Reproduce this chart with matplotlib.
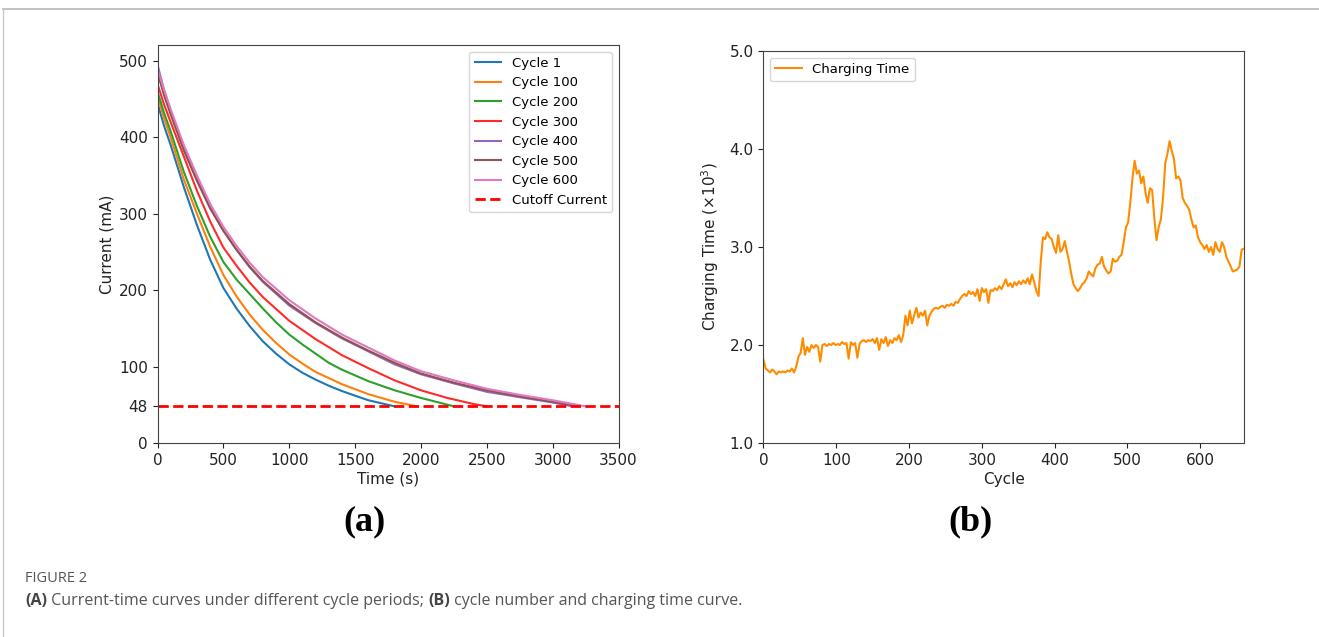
import matplotlib
matplotlib.use("Agg")
import matplotlib.pyplot as plt
from matplotlib.lines import Line2D

# ---------------- data: panel (a) ----------------
cycle_labels = ["Cycle 1", "Cycle 100", "Cycle 200", "Cycle 300",
                "Cycle 400", "Cycle 500", "Cycle 600"]

t_c1 = [0, 50, 100, 200, 300, 400, 500, 600, 700, 800, 900, 1000, 1100, 1200, 1300, 1400, 1500, 1600, 1700, 1800]
i_c1 = [445, 415, 390, 335, 285, 240, 203, 176, 153, 133, 117, 103, 92, 83, 75, 68, 62, 56, 52, 48]

t_c100 = [0, 50, 100, 200, 300, 400, 500, 600, 700, 800, 900, 1000, 1100, 1200, 1400, 1600, 1800, 1970]
i_c100 = [455, 425, 400, 345, 300, 257, 220, 192, 168, 148, 131, 116, 104, 93, 77, 64, 54, 48]

t_c200 = [0, 50, 100, 200, 300, 400, 500, 600, 700, 800, 900, 1000, 1100, 1200, 1300, 1400, 1600, 1800, 2000, 2250]
i_c200 = [460, 432, 408, 355, 310, 270, 237, 214, 195, 176, 158, 142, 129, 117, 105, 96, 81, 69, 59, 48]

t_c300 = [0, 50, 100, 200, 300, 400, 500, 600, 700, 800, 1000, 1200, 1400, 1600, 1800, 2000, 2200, 2400, 2500]
i_c300 = [470, 443, 420, 375, 330, 290, 256, 232, 210, 191, 160, 136, 115, 98, 82, 69, 59, 51, 48]

t_c400 = [0, 50, 100, 200, 300, 400, 500, 600, 700, 800, 1000, 1200, 1400, 1600, 1800, 2000, 2250, 2500, 2750, 3000, 3150]
i_c400 = [495, 462, 435, 385, 345, 308, 278, 253, 230, 211, 180, 157, 137, 120, 103, 90, 78, 67, 60, 53, 48]

t_c500 = [0, 50, 100, 200, 300, 400, 500, 600, 700, 800, 1000, 1200, 1400, 1600, 1800, 2000, 2250, 2500, 2750, 3000, 3200]
i_c500 = [485, 455, 430, 383, 343, 307, 278, 253, 231, 212, 182, 158, 138, 121, 105, 91, 79, 69, 61, 54, 48]

t_c600 = [0, 50, 100, 200, 300, 400, 500, 600, 700, 800, 1000, 1200, 1400, 1600, 1800, 2000, 2250, 2500, 2750, 3000, 3250]
i_c600 = [490, 462, 437, 390, 350, 313, 283, 258, 236, 217, 187, 163, 142, 125, 108, 94, 82, 71, 63, 56, 48]

cutoff_current = 48
yticks_a = [0, 48, 100, 200, 300, 400, 500]

# ---------------- data: panel (b) ----------------
cycles_b = [0, 3, 6, 9, 12, 15, 18, 21, 24, 27, 30, 33, 36, 39, 42, 45,
            48, 51, 54, 57, 60, 63, 66, 69, 72, 75, 78, 81, 84, 87, 90, 93, 96, 99,
            102, 105, 108, 111, 114, 117, 120, 123, 126, 129, 132, 135, 138, 141, 144, 147,
            150, 153, 156, 159, 162, 165, 168, 171, 174, 177, 180, 183, 186, 189, 192, 195,
            198, 201, 204, 207, 210, 213, 216, 219, 222, 225, 228, 231, 234, 237, 240, 243,
            246, 249, 252, 255, 258, 261, 264, 267, 270, 273, 276, 279, 282, 285, 288, 291,
            294, 297, 300, 303, 306, 309, 312, 315, 318, 321, 324, 327, 330, 333, 336, 339,
            342, 345, 348, 351, 354, 357, 360, 363, 366, 369, 372, 375, 378, 381, 384, 387,
            390, 393, 396, 399, 402, 405, 408, 411, 414, 417, 420, 423, 426, 429, 432, 435,
            438, 441, 444, 447, 450, 453, 456, 459, 462, 465, 468, 471, 474, 477, 480, 483,
            486, 489, 492, 495, 498, 501, 504, 507, 510, 513, 516, 519, 522, 525, 528, 531,
            534, 537, 540, 543, 546, 549, 552, 555, 558, 561, 564, 567, 570, 573, 576, 579,
            582, 585, 588, 591, 594, 597, 600, 603, 606, 609, 612, 615, 618, 621, 624, 627,
            630, 633, 636, 639, 642, 645, 648, 651, 654, 657, 659]
charging_time = [1.85, 1.76, 1.74, 1.72, 1.75, 1.73, 1.70, 1.73, 1.72, 1.73, 1.72, 1.74, 1.73, 1.76, 1.72, 1.78,
                 1.88, 1.92, 2.07, 1.90, 1.98, 1.93, 2.00, 1.97, 2.00, 1.98, 1.83, 2.00, 2.01, 1.99, 2.01, 2.00, 2.02, 2.00,
                 2.01, 2.00, 2.03, 2.01, 2.02, 1.86, 2.03, 2.00, 2.02, 1.87, 2.01, 2.04, 2.05, 2.03, 2.05, 2.04,
                 2.06, 2.02, 2.07, 1.95, 2.06, 2.02, 2.08, 1.99, 2.05, 2.02, 2.07, 2.05, 2.10, 2.03, 2.10, 2.30,
                 2.20, 2.35, 2.22, 2.30, 2.38, 2.28, 2.33, 2.30, 2.35, 2.20, 2.30, 2.34, 2.37, 2.38, 2.37, 2.39,
                 2.40, 2.38, 2.41, 2.40, 2.42, 2.40, 2.44, 2.43, 2.47, 2.50, 2.52, 2.50, 2.55, 2.52, 2.54, 2.50,
                 2.57, 2.45, 2.58, 2.54, 2.57, 2.43, 2.56, 2.55, 2.58, 2.56, 2.60, 2.57, 2.62, 2.67, 2.60, 2.63,
                 2.59, 2.64, 2.61, 2.65, 2.62, 2.66, 2.63, 2.68, 2.62, 2.72, 2.64, 2.55, 2.50, 2.85, 3.10, 3.08,
                 3.15, 3.10, 3.08, 3.00, 2.94, 3.12, 2.95, 2.98, 3.06, 2.95, 2.85, 2.72, 2.62, 2.58, 2.55, 2.58,
                 2.62, 2.64, 2.68, 2.75, 2.72, 2.70, 2.78, 2.82, 2.83, 2.90, 2.80, 2.76, 2.73, 2.75, 2.88, 2.85,
                 2.86, 2.90, 2.92, 3.05, 3.20, 3.25, 3.45, 3.70, 3.88, 3.75, 3.78, 3.65, 3.72, 3.55, 3.45, 3.60,
                 3.58, 3.30, 3.07, 3.20, 3.28, 3.50, 3.85, 3.95, 4.08, 3.98, 3.90, 3.70, 3.72, 3.68, 3.50, 3.45,
                 3.42, 3.38, 3.28, 3.20, 3.22, 3.10, 3.05, 3.02, 2.98, 3.02, 2.95, 3.00, 2.92, 3.05, 2.98, 2.95,
                 3.05, 3.00, 2.90, 2.85, 2.80, 2.75, 2.76, 2.77, 2.80, 2.97, 2.98]
yticks_b = [1.0, 2.0, 3.0, 4.0, 5.0]
xticks_b = [0, 100, 200, 300, 400, 500, 600]

# ---------------- figure ----------------
W, H = 1319, 637
fig = plt.figure(figsize=(W / 100, H / 100), dpi=100)
fig.patch.set_facecolor("white")

# page frame lines (top and left)
fig.add_artist(Line2D([3 / W, 1.0], [1 - 9 / H, 1 - 9 / H], color="#b5b5b5", lw=1.2))
fig.add_artist(Line2D([3 / W, 3 / W], [0.0, 1 - 9 / H], color="#c8c8c8", lw=1.0))

tick_fs = 11
lab_fs = 11

# panel (a)
ax1 = fig.add_axes([157.5 / W, 1 - 443 / H, 461 / W, (443 - 45) / H])
colors_a = ["#1f77b4", "#ff7f0e", "#2ca02c", "#ff2a2a", "#9467bd", "#8c564b", "#e377c2"]
series_a = [(t_c1, i_c1), (t_c100, i_c100), (t_c200, i_c200), (t_c300, i_c300),
            (t_c400, i_c400), (t_c500, i_c500), (t_c600, i_c600)]
for (t, i), c, lab in zip(series_a, colors_a, cycle_labels):
    ax1.plot(t, i, color=c, lw=1.5, label=lab)
ax1.axhline(cutoff_current, color="red", ls="--", lw=2, label="Cutoff Current")
ax1.set_xlim(0, 3500)
ax1.set_ylim(0, 521)
ax1.set_yticks(yticks_a)
ax1.set_xticks([0, 500, 1000, 1500, 2000, 2500, 3000, 3500])
ax1.tick_params(labelsize=tick_fs, colors="#222222")
ax1.set_xlabel("Time (s)", fontsize=lab_fs, color="#222222", labelpad=3)
ax1.set_ylabel("Current (mA)", fontsize=lab_fs, color="#222222", labelpad=3)
ax1.legend(loc="upper right", fontsize=9.5, handlelength=2.0, labelspacing=0.5)
for s in ax1.spines.values():
    s.set_color("#444444")

# panel (b)
ax2 = fig.add_axes([763.5 / W, 1 - 443 / H, 480.3 / W, (443 - 51) / H])
ax2.plot(cycles_b, charging_time, color="#ff8c00", lw=1.5, label="Charging Time")
ax2.set_xlim(0, 660)
ax2.set_ylim(1.0, 5.0)
ax2.set_yticks(yticks_b)
ax2.set_yticklabels([f"{v:.1f}" for v in yticks_b])
ax2.set_xticks(xticks_b)
ax2.tick_params(labelsize=tick_fs, colors="#222222")
ax2.set_xlabel("Cycle", fontsize=lab_fs, color="#222222", labelpad=3)
ax2.set_ylabel("Charging Time (×10$^3$)", fontsize=lab_fs, color="#222222", labelpad=6)
ax2.legend(loc="upper left", fontsize=9.5, handlelength=2.0)
for s in ax2.spines.values():
    s.set_color("#444444")

# panel labels
fig.text(365 / W, 1 - 522 / H, "(a)", fontsize=26, fontweight="bold",
         family="Liberation Serif", ha="center", va="center")
fig.text(970 / W, 1 - 522 / H, "(b)", fontsize=26, fontweight="bold",
         family="Liberation Serif", ha="center", va="center")

# caption
fig.text(25 / W, 1 - 578 / H, "FIGURE 2", fontsize=10.5, color="#555555",
         family="Open Sans", ha="left", va="center")
cap_y = 1 - 601 / H
cap_fs = 11.5
t1 = fig.text(25 / W, cap_y, "(A)", fontsize=cap_fs, color="#444444", fontweight="bold",
              family="Open Sans", ha="left", va="center")
fig.canvas.draw()
r = fig.canvas.get_renderer()
bb = t1.get_window_extent(r)
t2 = fig.text(bb.x1 / W, cap_y, " Current-time curves under different cycle periods; ", fontsize=cap_fs,
              color="#555555", family="Open Sans", ha="left", va="center")
bb = t2.get_window_extent(r)
t3 = fig.text(bb.x1 / W, cap_y, "(B)", fontsize=cap_fs, color="#444444", fontweight="bold",
              family="Open Sans", ha="left", va="center")
bb = t3.get_window_extent(r)
fig.text(bb.x1 / W, cap_y, " cycle number and charging time curve.", fontsize=cap_fs,
         color="#555555", family="Open Sans", ha="left", va="center")

fig.savefig("out.png", dpi=100, facecolor="white")
